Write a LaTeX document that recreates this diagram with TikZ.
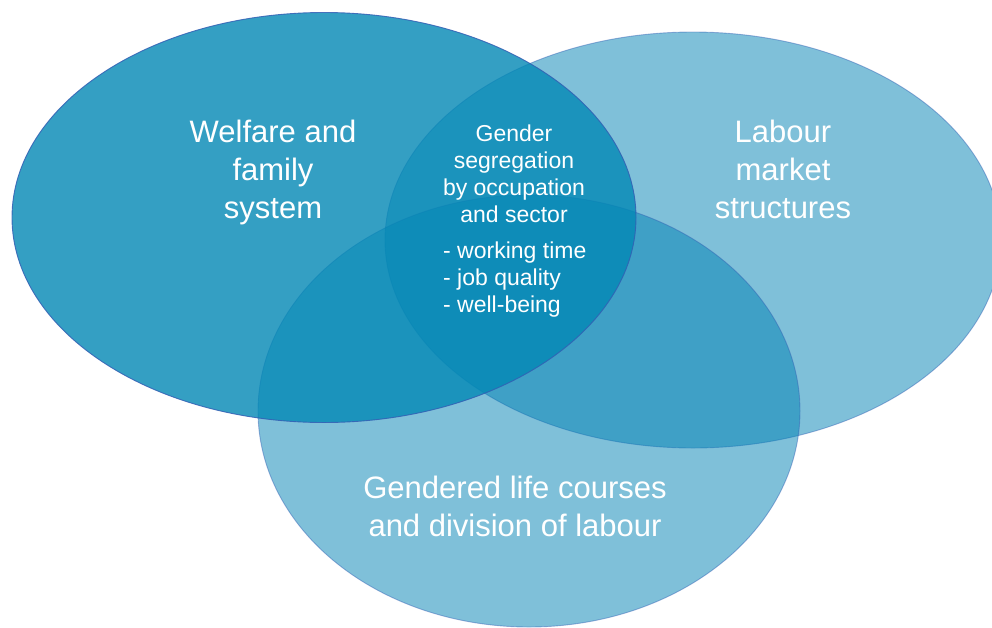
\documentclass[tikz,border=0pt]{standalone}
\usepackage{fontspec}
\setmainfont{Liberation Sans}
\definecolor{vennblue}{RGB}{0,130,180}
\definecolor{venntop}{RGB}{2,136,181}
\definecolor{vennedge}{RGB}{50,95,180}
\tikzset{
  lightset/.style={fill=vennblue, fill opacity=0.5, draw=vennedge, draw opacity=0.45, line width=0.9pt},
  darkset/.style={fill=venntop, fill opacity=0.8, draw=vennedge, draw opacity=0.85, line width=0.9pt},
  bigtext/.style={text=white, font=\fontsize{31}{38}\selectfont, align=center, inner sep=0pt, anchor=base},
  smalltext/.style={text=white, font=\fontsize{23}{27}\selectfont, inner sep=0pt, anchor=base},
}
\begin{document}
\begin{tikzpicture}[x=1pt,y=-1pt]
\clip (0,0) rectangle (992,627);
\fill[white] (0,0) rectangle (992,627);
% right ellipse (Labour market structures)
\path[lightset] (693,240) ellipse [x radius=308pt, y radius=208pt];
% bottom ellipse (Gendered life courses)
\path[lightset] (529,411) ellipse [x radius=271pt, y radius=216pt];
% left ellipse (Welfare and family system), on top
\path[darkset] (324,217.5) ellipse [x radius=312pt, y radius=205pt];

\node[bigtext] (welfare) at (273,218) {Welfare and\\family\\system};
\node[bigtext] (labour) at (783,218) {Labour\\market\\structures};
\node[bigtext] (gendered) at (515,536) {Gendered life courses\\and division of labour};
\node[smalltext, align=center] (segr) at (514,222) {Gender\\segregation\\by occupation\\and sector};
\node[smalltext, align=left, anchor=base west] (outcomes) at (443,312) {- working time\\- job quality\\- well-being};
\end{tikzpicture}
\end{document}
